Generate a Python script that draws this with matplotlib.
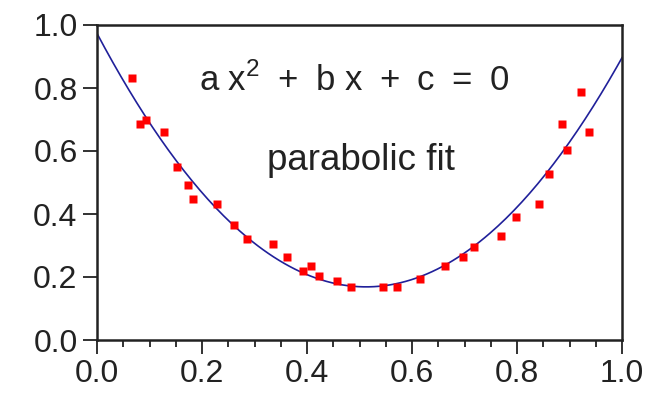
import numpy as np
import matplotlib
matplotlib.use("Agg")
import matplotlib.pyplot as plt
from matplotlib.ticker import MultipleLocator

plt.rcParams['font.family'] = ['Liberation Sans', 'DejaVu Sans']
plt.rcParams['mathtext.fontset'] = 'custom'
plt.rcParams['mathtext.rm'] = 'Liberation Sans'

x_pts = [0.066, 0.081, 0.093, 0.128, 0.153, 0.173, 0.183, 0.228, 0.260, 0.285,
         0.336, 0.361, 0.392, 0.407, 0.422, 0.458, 0.484, 0.544, 0.571, 0.615,
         0.662, 0.698, 0.718, 0.769, 0.799, 0.841, 0.860, 0.896, 0.886, 0.921,
         0.937]
y_pts = [0.831, 0.686, 0.698, 0.661, 0.550, 0.492, 0.448, 0.432, 0.365, 0.321,
         0.305, 0.262, 0.220, 0.236, 0.203, 0.186, 0.169, 0.169, 0.169, 0.195,
         0.236, 0.262, 0.296, 0.330, 0.389, 0.432, 0.526, 0.603, 0.686, 0.788,
         0.661]

x_ticks = [0.0, 0.2, 0.4, 0.6, 0.8, 1.0]
y_ticks = [0.0, 0.2, 0.4, 0.6, 0.8, 1.0]

# parabolic fit through the points
coef = np.polyfit(x_pts, y_pts, 2)
xf = np.linspace(0, 1, 200)
yf = np.polyval(coef, xf)

fig = plt.figure(figsize=(6.59, 3.96), dpi=100)
ax = fig.add_axes([97/659, 1-340/396, 525/659, 315/396])

ax.plot(xf, yf, color='#20209a', lw=1.2, zorder=2)
ax.plot(x_pts, y_pts, 's', color='#ff0000', ms=5.5, mec='none', zorder=3)

ax.set_xlim(0, 1)
ax.set_ylim(0, 1)
ax.set_xticks(x_ticks)
ax.set_yticks(y_ticks)
ax.xaxis.set_minor_locator(MultipleLocator(0.05))
ax.set_xticklabels(['%.1f' % v for v in x_ticks])
ax.set_yticklabels(['%.1f' % v for v in y_ticks])
ax.tick_params(axis='both', which='major', direction='out', length=10, width=1.3,
               labelsize=23, colors='#222222', pad=4)
ax.tick_params(axis='x', which='minor', direction='out', length=5, width=1.3, colors='#222222')
for s in ax.spines.values():
    s.set_linewidth(1.8)
    s.set_color('#222222')

sp = '\u2002'
formula = 'a x$^{\\mathregular{2}}$' + sp + '+' + sp + 'b x' + sp + '+' + sp + 'c' + sp + '=' + sp + '0'
ax.text(0.49, 0.79, formula, ha='center', va='baseline',
        fontsize=25, color='#222222')
ax.text(0.503, 0.54, 'parabolic fit', ha='center', va='baseline',
        fontsize=26.5, color='#222222')

fig.savefig('out.png', dpi=100)
